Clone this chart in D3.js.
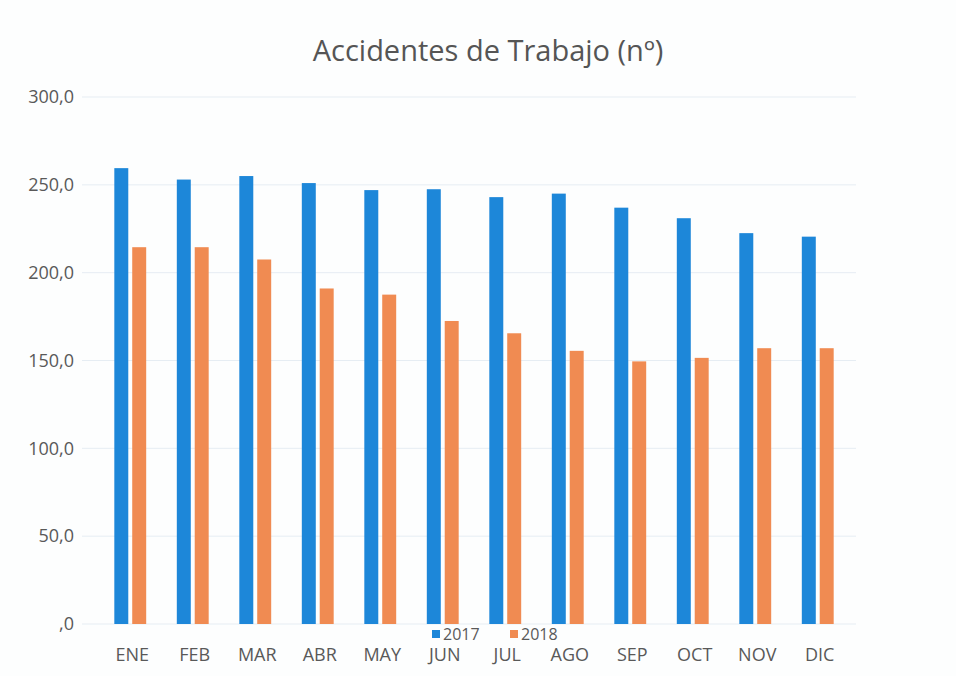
<!DOCTYPE html>
<html>
<head>
<meta charset="utf-8">
<script src="https://cdn.jsdelivr.net/npm/d3@7"></script>
<style>
  body { margin: 0; background: #fdfefe; }
  svg { display: block; font-family: "Open Sans", "Noto Sans", sans-serif; }
</style>
</head>
<body>
<svg id="chart"></svg>
<script>
// Data
const months = ["ENE", "FEB", "MAR", "ABR", "MAY", "JUN", "JUL", "AGO", "SEP", "OCT", "NOV", "DIC"];
const series = ["2017", "2018"];
const values2017 = [259.5, 253, 255, 251, 247, 247.5, 243, 245, 237, 231, 222.5, 220.5];
const values2018 = [214.5, 214.5, 207.5, 191, 187.5, 172.5, 165.5, 155.5, 149.5, 151.5, 157, 157];
const yTicks = [0, 50, 100, 150, 200, 250, 300];
const colors = { "2017": "#1d87d9", "2018": "#f08b52" };

const data = months.map((m, i) => ({ month: m, "2017": values2017[i], "2018": values2018[i] }));

const width = 956, height = 676;
const svg = d3.select("#chart").attr("width", width).attr("height", height);

// scales
const x0 = d3.scaleBand()
    .domain(months)
    .range([99, 849])
    .paddingInner(0.49)
    .paddingOuter(0.245);

const x1 = d3.scaleBand()
    .domain(series)
    .range([0, x0.bandwidth()])
    .paddingInner(0.22);

const y = d3.scaleLinear()
    .domain([0, 300])
    .range([624, 97]);

// gridlines
svg.append("g")
    .selectAll("line")
    .data(yTicks)
    .enter().append("line")
    .attr("x1", 82)
    .attr("x2", 856)
    .attr("y1", d => y(d))
    .attr("y2", d => y(d))
    .attr("stroke", "#e6edf3")
    .attr("stroke-width", 1);

// y labels
svg.append("g")
    .selectAll("text")
    .data(yTicks)
    .enter().append("text")
    .attr("x", 74)
    .attr("y", d => y(d))
    .attr("dy", "0.35em")
    .attr("text-anchor", "end")
    .attr("fill", "#595959")
    .style("font-size", "18px")
    .text(d => d === 0 ? ",0" : d3.format(".1f")(d).replace(".", ","));

// bars
const groups = svg.append("g")
    .selectAll("g")
    .data(data)
    .enter().append("g")
    .attr("transform", d => "translate(" + x0(d.month) + ",0)");

groups.selectAll("rect")
    .data(d => series.map(s => ({ key: s, value: d[s] })))
    .enter().append("rect")
    .attr("x", d => x1(d.key))
    .attr("width", x1.bandwidth())
    .attr("y", d => y(d.value))
    .attr("height", d => y(0) - y(d.value))
    .attr("fill", d => colors[d.key]);

// x labels
svg.append("g")
    .selectAll("text")
    .data(months)
    .enter().append("text")
    .attr("x", d => x0(d) + x0.bandwidth() / 2 + 2)
    .attr("y", 661)
    .attr("text-anchor", "middle")
    .attr("fill", "#595959")
    .style("font-size", "18px")
    .text(d => d);

// legend
const legend = svg.append("g")
    .selectAll("g")
    .data(series)
    .enter().append("g")
    .attr("transform", (d, i) => "translate(" + (432 + i * 78) + ",634)");

legend.append("rect")
    .attr("x", 0)
    .attr("y", -4)
    .attr("width", 8)
    .attr("height", 8)
    .attr("fill", d => colors[d]);

legend.append("text")
    .attr("x", 11)
    .attr("y", 0)
    .attr("dy", "0.35em")
    .attr("fill", "#595959")
    .style("font-size", "16px")
    .text(d => d);

// title
svg.append("text")
    .attr("x", 488)
    .attr("y", 61)
    .attr("text-anchor", "middle")
    .attr("fill", "#555555")
    .style("font-size", "29px")
    .text("Accidentes de Trabajo (nº)");
</script>
</body>
</html>
